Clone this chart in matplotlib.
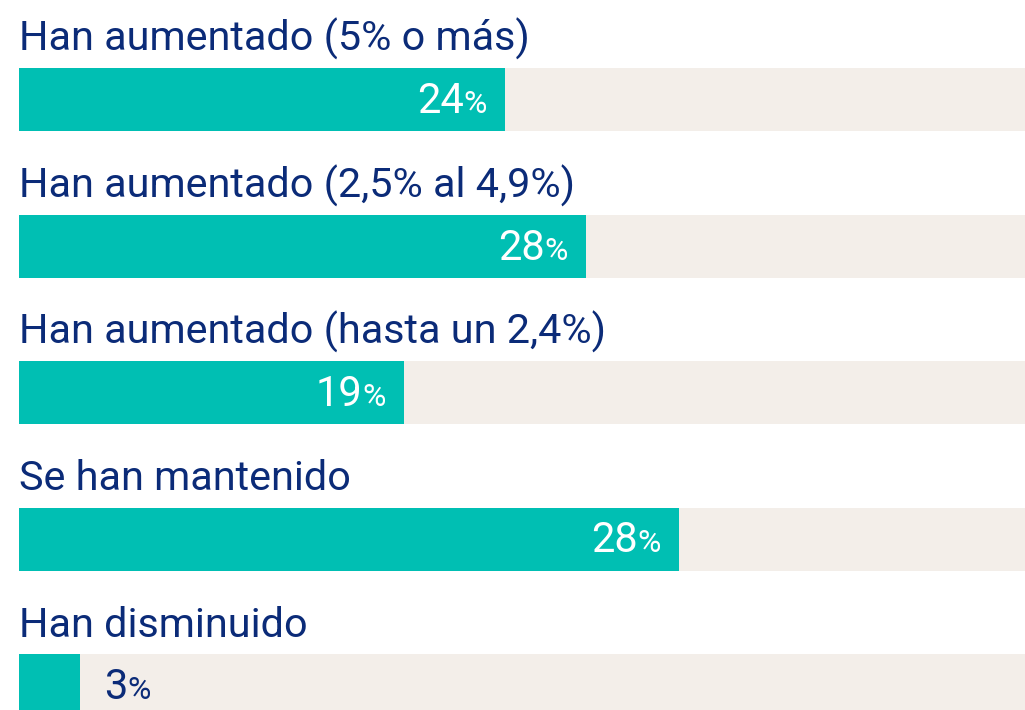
import matplotlib
matplotlib.use('Agg')
import matplotlib.pyplot as plt

# data
categories = ['Han aumentado (5% o más)',
              'Han aumentado (2,5% al 4,9%)',
              'Han aumentado (hasta un 2,4%)',
              'Se han mantenido',
              'Han disminuido']
bar_values = [24, 28, 19, 32.6, 3]       # bar lengths as drawn
value_labels = ['24', '28', '19', '28', '3']  # numbers printed on the bars

teal = '#00bfb3'
track = '#f3eee9'
navy = '#0b2b78'

plt.rcParams['font.family'] = ['Roboto', 'DejaVu Sans']

W, H = 1025, 710
fig = plt.figure(figsize=(W / 100, H / 100), dpi=100)
ax = fig.add_axes([0, 0, 1, 1])
ax.axis('off')

px = 20.25  # pixels per percentage point
x0 = 19 / px
ax.set_xlim(-x0, (W - 19) / px)
ax.set_ylim(H, 0)

centers = [99.5 + 146.5 * i for i in range(len(categories))]
bar_h = 63

ax.barh(centers, [100] * len(categories), height=bar_h, color=track, left=0)
ax.barh(centers, bar_values, height=bar_h, color=teal, left=0)

fig.canvas.draw()
r = fig.canvas.get_renderer()
inv = ax.transData.inverted()

for c, cat, v, lab in zip(centers, categories, bar_values, value_labels):
    ax.text(0, c - bar_h / 2 - 17, cat, fontsize=29.8, color=navy,
            va='baseline', ha='left')
    base = c + 13.5
    if v > 8:
        # inside the bar, right aligned
        pct = ax.text(v - 18 / px, base, '%', fontsize=23, color='white',
                      ha='right', va='baseline')
        bb = pct.get_window_extent(r)
        xl = inv.transform((bb.x0, 0))[0]
        ax.text(xl, base, lab, fontsize=30, color='white',
                ha='right', va='baseline')
    else:
        num = ax.text(v + 24 / px, base, lab, fontsize=30, color=navy,
                      ha='left', va='baseline')
        bb = num.get_window_extent(r)
        xr = inv.transform((bb.x1, 0))[0]
        ax.text(xr, base, '%', fontsize=23, color=navy,
                ha='left', va='baseline')

fig.savefig('out.png', dpi=100)
